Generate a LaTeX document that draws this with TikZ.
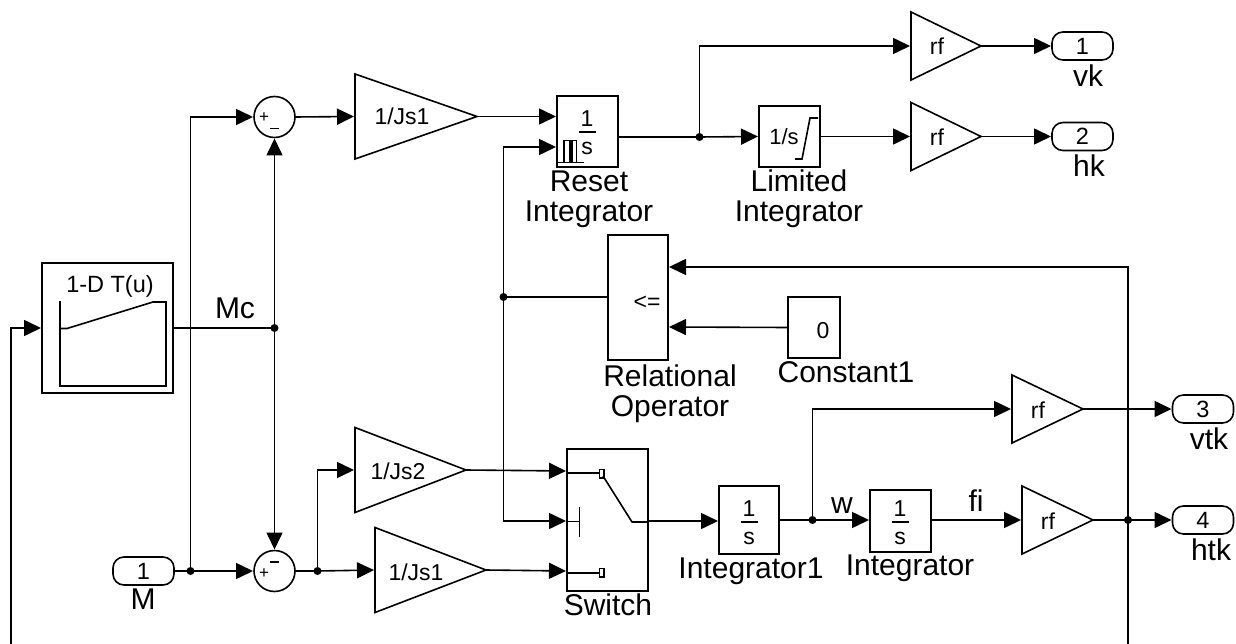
\documentclass[tikz,border=0pt]{standalone}
\usepackage{fontspec}
\setmainfont{Liberation Sans}
\usetikzlibrary{shapes.geometric,arrows.meta}
\tikzset{
  every node/.style={outer sep=0pt},
  wire/.style={line width=1.6pt,draw=black},
  sig/.style={wire,-{Triangle[length=17pt,width=16pt]},shorten >=1pt},
  block/.style={draw,line width=1.6pt,rectangle,inner sep=0pt},
  gainb/.style={draw,line width=1.6pt,isosceles triangle,isosceles triangle stretches,inner sep=0pt,anchor=apex,shape border rotate=0},
  summer/.style={draw,line width=1.6pt,circle,minimum size=41pt,inner sep=0pt},
  port/.style={draw,line width=1.6pt,rounded corners=11pt,rectangle,minimum width=61pt,minimum height=28pt,inner sep=0pt,font=\fontsize{23.5}{23.5}\selectfont},
  dotj/.style={circle,fill=black,minimum size=8pt,inner sep=0pt},
  lbl/.style={inner sep=0pt,anchor=base,font=\fontsize{30}{30}\selectfont,align=center},
  inner/.style={inner sep=0pt,anchor=base,font=\fontsize{23}{23}\selectfont},
  signl/.style={inner sep=0pt,anchor=base,font=\fontsize{17}{17}\selectfont},
  thin1/.style={line width=1.6pt},
}
\begin{document}
\begin{tikzpicture}[x=1pt,y=-1pt]
\useasboundingbox[fill=white] (0,0) rectangle (1236,644);
% blocks
\node[block,minimum width=131pt,minimum height=130pt] (tab) at (107.5,328) {};
\node[port] (pM) at (143.5,571) {1};
\node[summer] (s1) at (274.5,117) {};
\node[summer] (s2) at (274.5,571) {};
\node[gainb,minimum height=122pt,minimum width=85pt] (g1) at (477,116.5) {};
\node[gainb,minimum height=111pt,minimum width=85pt] (g2) at (466,470) {};
\node[gainb,minimum height=111pt,minimum width=85pt] (g3) at (486,570) {};
\node[block,minimum width=61pt,minimum height=71pt] (ri) at (587.5,131.5) {};
\node[block,minimum width=61pt,minimum height=61pt] (li) at (789.5,136.5) {};
\node[block,minimum width=60pt,minimum height=125pt] (rel) at (638,297.5) {};
\node[block,minimum width=52pt,minimum height=61pt] (con) at (814,327.5) {};
\node[block,minimum width=81pt,minimum height=142pt] (sw) at (607.5,520) {};
\node[block,minimum width=60pt,minimum height=68pt] (i1) at (749,520) {};
\node[block,minimum width=61pt,minimum height=62pt] (i2) at (900.5,521) {};
\node[gainb,minimum height=70pt,minimum width=68pt] (r1) at (981,46) {};
\node[gainb,minimum height=70pt,minimum width=68pt] (r2) at (981,136.5) {};
\node[gainb,minimum height=71pt,minimum width=68pt] (r3) at (1083,409) {};
\node[gainb,minimum height=71pt,minimum width=68pt] (r4) at (1093,520) {};
\node[port] (p1) at (1082.5,46) {1};
\node[port] (p2) at (1082.5,136.5) {2};
\node[port] (p3) at (1203,409) {3};
\node[port] (p4) at (1203,520) {4};
% gain texts
\node[inner] (tg1) at (402,125) {1/Js1};
\node[inner] (tg2) at (398,479) {1/Js2};
\node[inner] (tg3) at (416,580) {1/Js1};
\node[inner] (tr1) at (937,55) {rf};
\node[inner] (tr2) at (937,146) {rf};
\node[inner] (tr3) at (1038,418) {rf};
\node[inner] (tr4) at (1048,529) {rf};
% junctions
\node[dotj] (jM) at (190.5,571) {};
\node[dotj] (jC) at (274.5,328) {};
\node[dotj] (jS) at (317.5,571) {};
\node[dotj] (jR) at (699.5,137) {};
\node[dotj] (jO) at (503.5,297) {};
\node[dotj] (jW) at (812.5,520) {};
\node[dotj] (jH) at (1128,520) {};
% pins
\coordinate (ri1) at (ri.west |- g1.apex);
\coordinate (ri2) at (557,147);
\coordinate (rel1) at (668,267);
\coordinate (rel2) at (668,327);
\coordinate (sw1) at (567,471);
\coordinate (sw2) at (567,521);
\coordinate (sw3) at (567,571);
\coordinate (freeL) at (11,644);
\coordinate (freeR) at (1128,644);
% connectors
\draw[wire] (tab.east) -- (jC.center);
\draw[sig] (freeL) |- (tab.west);
\draw[sig] (jM.center) |- (s1.west);
\draw[wire] (pM.east) -- (jM.center);
\draw[sig] (jM.center) -- (s2.west);
\draw[sig] (jC.center) -- (s1.south);
\draw[sig] (jC.center) -- (s2.north);
\draw[sig] (s1.east) -- (g1.west);
\draw[sig] (g1.apex) -- (ri1);
\draw[wire] (s2.east) -- (jS.center);
\draw[sig] (jS.center) -- (g3.west);
\draw[sig] (jS.center) |- (g2.west);
\draw[sig] (g2.apex) -- (sw1);
\draw[sig] (g3.apex) -- (sw3);
\draw[wire] (rel.west |- jO) -- (jO.center);
\draw[sig] (jO.center) |- (ri2);
\draw[sig] (jO.center) |- (sw2);
\draw[wire] (ri.east |- jR) -- (jR.center);
\draw[sig] (jR.center) -- (li.west);
\draw[sig] (jR.center) |- (r1.west);
\draw[sig] (li.east) -- (r2.west);
\draw[sig] (r1.apex) -- (p1.west);
\draw[sig] (r2.apex) -- (p2.west);
\draw[sig] (con.west) -- (rel2);
\draw[sig] (sw.east |- sw2) -- (i1.west |- sw2);
\draw[wire] (i1.east) -- (jW.center);
\draw[sig] (jW.center) -- (i2.west |- jW);
\draw[sig] (jW.center) |- (r3.west);
\draw[sig] (i2.east |- jW) -- (r4.west);
\draw[sig] (r3.apex) -- (p3.west);
\draw[wire] (r4.apex) -- (jH.center);
\draw[sig] (jH.center) -- (p4.west);
\draw[wire] (freeR) -- (jH.center);
\draw[sig] (jH.center) |- (rel1);
% table icon
\draw[thin1] (60,301) -- (60,386) -- (166,386) -- (166,302) -- (153,302) -- (67,328.5) -- (60,328.5);
\node[inner,font=\fontsize{23.5}{23.5}\selectfont] (tt) at (110,292) {1-D T(u)};
% sum signs
\node[signl] (s1p) at (264,123) {+};
\draw[thin1] (270,128.5) -- (279,128.5);
\node[signl] (s2p) at (264,578) {+};
\draw[thin1] (270,562) -- (279,562);
% reset integrator icon
\node[inner] (ri1t) at (587,126.5) {1};
\draw[thin1] (579,132) -- (596,132);
\node[inner] (ri2t) at (587,155) {s};
\draw[thin1] (558,162.5) -- (584,162.5);
\draw[thin1] (564,162.5) -- (564,140.5) -- (576.5,140.5) -- (576.5,162.5);
\draw[thin1] (570,140.5) -- (570,162.5);
\draw[thin1] (572,140.5) -- (572,162.5);
% limited integrator icon
\node[inner,font=\fontsize{22}{22}\selectfont] (lit) at (784,145) {1/s};
\draw[thin1] (795,159) -- (802,159) -- (810,118) -- (818,118);
% constant / relational
\node[inner] (c0) at (823,338) {0};
\node[inner] (rl) at (647,309) {<=};
% integrators
\node[inner] (a1) at (749,516) {1};
\draw[thin1] (741,522) -- (758,522);
\node[inner] (a2) at (749,544) {s};
\node[inner] (b1) at (900,516) {1};
\draw[thin1] (892,522) -- (909,522);
\node[inner] (b2) at (900,544) {s};
% switch icon
\draw[thin1] (567,473) -- (599.5,473);
\draw[line width=1.2pt] (599.5,469.5) rectangle (604,478);
\draw[thin1] (567,573) -- (599.5,573);
\draw[line width=1.2pt] (599.5,568.5) rectangle (604,577);
\draw[thin1] (567,521.5) -- (579.5,521.5);
\draw[thin1] (579.5,507) -- (579.5,537);
\draw[thin1] (603,476) -- (632,522) -- (648,522);
% labels
\node[lbl] (lMc) at (235,318) {Mc};
\node[lbl] (lM) at (143,609) {M};
\node[lbl] (lReset) at (589,222) {Reset\\Integrator};
\node[lbl] (lLim) at (799,222) {Limited\\Integrator};
\node[lbl] (lRel) at (670,416) {Relational\\Operator};
\node[lbl] (lCon) at (846,382) {Constant1};
\node[lbl] (lSw) at (608,615) {Switch};
\node[lbl] (lI1) at (751,578) {Integrator1};
\node[lbl] (lI2) at (910,575) {Integrator};
\node[lbl] (lw) at (842,513) {w};
\node[lbl] (lfi) at (976,511) {fi};
\node[lbl] (lvk) at (1088,87) {vk};
\node[lbl] (lhk) at (1089,177) {hk};
\node[lbl] (lvtk) at (1209,449) {vtk};
\node[lbl] (lhtk) at (1211,560) {htk};
\end{tikzpicture}
\end{document}
